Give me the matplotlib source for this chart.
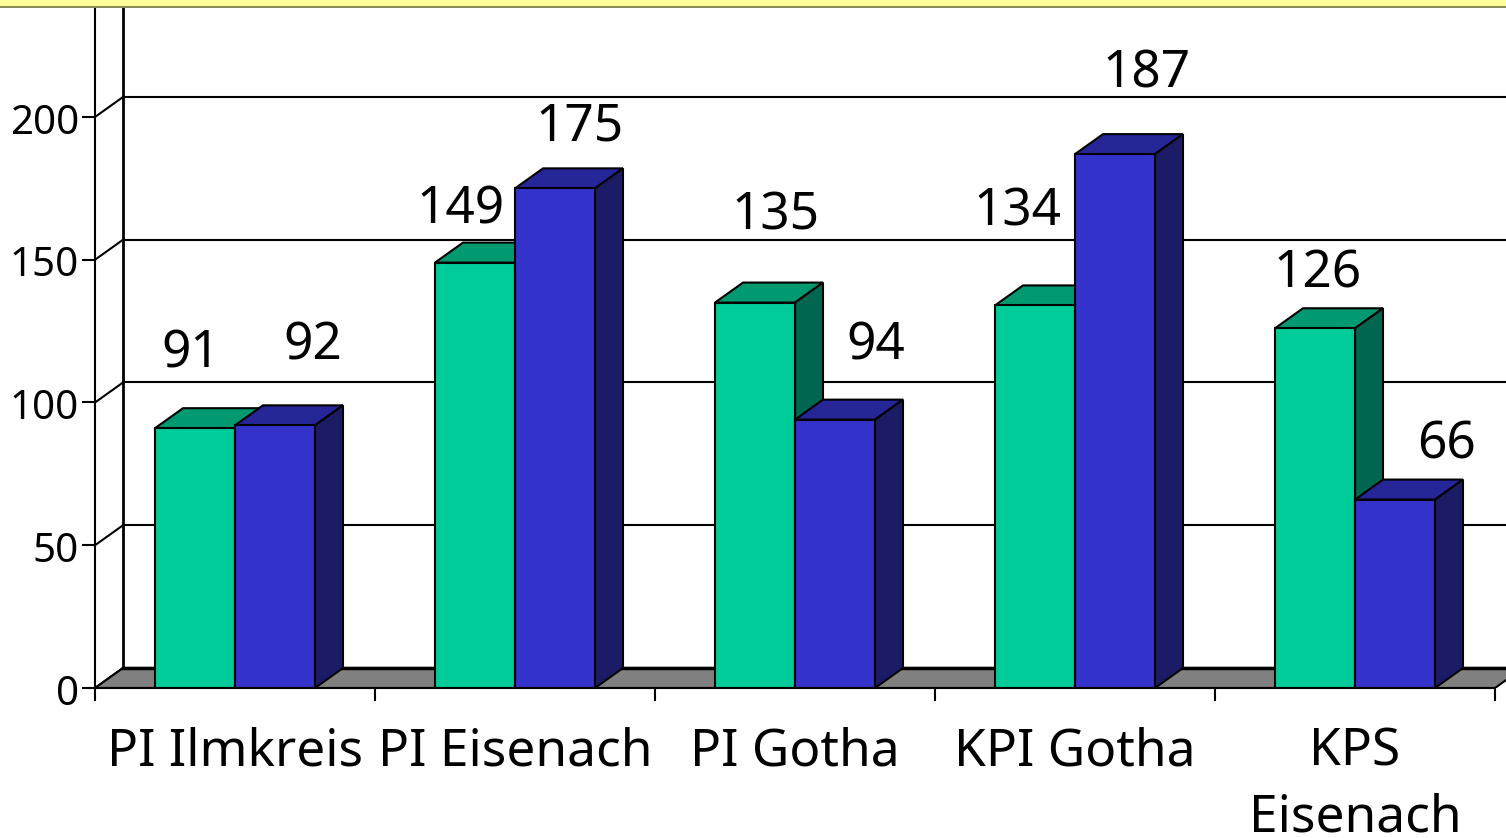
import matplotlib
matplotlib.use('Agg')
import matplotlib.pyplot as plt
from matplotlib.patches import Polygon, Rectangle
from matplotlib.transforms import ScaledTranslation

categories = ['PI Ilmkreis', 'PI Eisenach', 'PI Gotha', 'KPI Gotha', 'KPS\nEisenach']
green_vals = [91, 149, 135, 134, 126]
blue_vals = [92, 175, 94, 187, 66]
y_ticks = [0, 50, 100, 150, 200]

# label offsets from the top middle of the bar, in pixels
green_offs = [(-4, 74), (-14, 53), (21, 87), (-18, 93), (3, 54)]
blue_offs = [(38, 79), (25, 61), (41, 74), (32, 80), (52, 55)]

plt.rcParams['font.family'] = ['Noto Sans', 'DejaVu Sans']
W, H = 1506, 838
fig = plt.figure(figsize=(W / 100, H / 100), dpi=100)
ax = fig.add_axes([95 / W, (H - 688) / H, (W - 95) / W, 680 / H])
xmax = (W - 95) / 280
ymax = 680 / 2.855
ax.set_xlim(0, xmax)
ax.set_ylim(0, ymax)
dx = 28 / 280
dy = 20 / 2.855
bw = 80 / 280
lw = 1.5


def bar3d(x, v, front, top, side):
    ax.add_patch(Polygon([(x, v), (x + dx, v + dy), (x + bw + dx, v + dy), (x + bw, v)],
                         fc=top, ec='black', lw=lw, zorder=3))
    ax.add_patch(Polygon([(x + bw, 0), (x + bw + dx, dy), (x + bw + dx, v + dy), (x + bw, v)],
                         fc=side, ec='black', lw=lw, zorder=3))
    ax.bar(x, v, bw, align='edge', color=front, edgecolor='black', linewidth=lw, zorder=3)


# back wall
for t in y_ticks:
    ax.plot([dx, xmax], [t + dy, t + dy], color='black', lw=lw, zorder=1)
    ax.plot([0, dx], [t, t + dy], color='black', lw=lw, zorder=1)
ax.plot([dx, dx], [dy, ymax], color='black', lw=2, zorder=1)
ax.add_patch(Polygon([(0, 0), (dx, dy), (5 + dx, dy), (5, 0)], fc='#808080', ec='black', lw=lw, zorder=2))
ax.plot([dx, xmax], [dy, dy], color='black', lw=2.5, zorder=2)

for i in range(len(categories)):
    x0 = i + 60 / 280
    bar3d(x0, green_vals[i], '#00CC99', '#009970', '#006650')
    bar3d(x0 + bw, blue_vals[i], '#3333CC', '#262699', '#1C1C66')
    ax.annotate(str(green_vals[i]), (x0 + bw / 2, green_vals[i]), xytext=green_offs[i],
                textcoords='offset pixels', ha='center', va='center', fontsize=37,
                color='black', zorder=5, annotation_clip=False)
    ax.annotate(str(blue_vals[i]), (x0 + bw * 1.5, blue_vals[i]), xytext=blue_offs[i],
                textcoords='offset pixels', ha='center', va='center', fontsize=37,
                color='black', zorder=5, annotation_clip=False)

for s in ['top', 'right']:
    ax.spines[s].set_visible(False)
ax.spines['left'].set_linewidth(lw)
ax.spines['left'].set_zorder(4)
ax.spines['bottom'].set_linewidth(lw)
ax.spines['bottom'].set_bounds(0, 5)
ax.spines['bottom'].set_zorder(4)

ax.set_yticks(y_ticks)
ax.tick_params(axis='y', length=9.5, width=lw, labelsize=29, pad=2)
shift = ScaledTranslation(0, -1.5 / 100, fig.dpi_scale_trans)
for lab in ax.get_yticklabels():
    lab.set_transform(lab.get_transform() + shift)
ax.set_xticks(range(6))
ax.set_xticklabels([])
ax.tick_params(axis='x', which='major', length=9, width=lw)
ax.set_xticks([i + 0.5 for i in range(5)], minor=True)
ax.set_xticklabels(categories, minor=True, fontsize=37, linespacing=1.37)
ax.tick_params(axis='x', which='minor', length=0, pad=28)

# yellow strip along the top edge
fig.add_artist(Rectangle((0, 1 - 7 / H), 1, 7 / H, transform=fig.transFigure,
                         fc='#FFFF99', ec='none'))
fig.add_artist(Rectangle((0, 1 - 8 / H), 1, 2 / H, transform=fig.transFigure,
                         fc='#8C8C5A', ec='none'))

fig.savefig('out.png', dpi=100)
